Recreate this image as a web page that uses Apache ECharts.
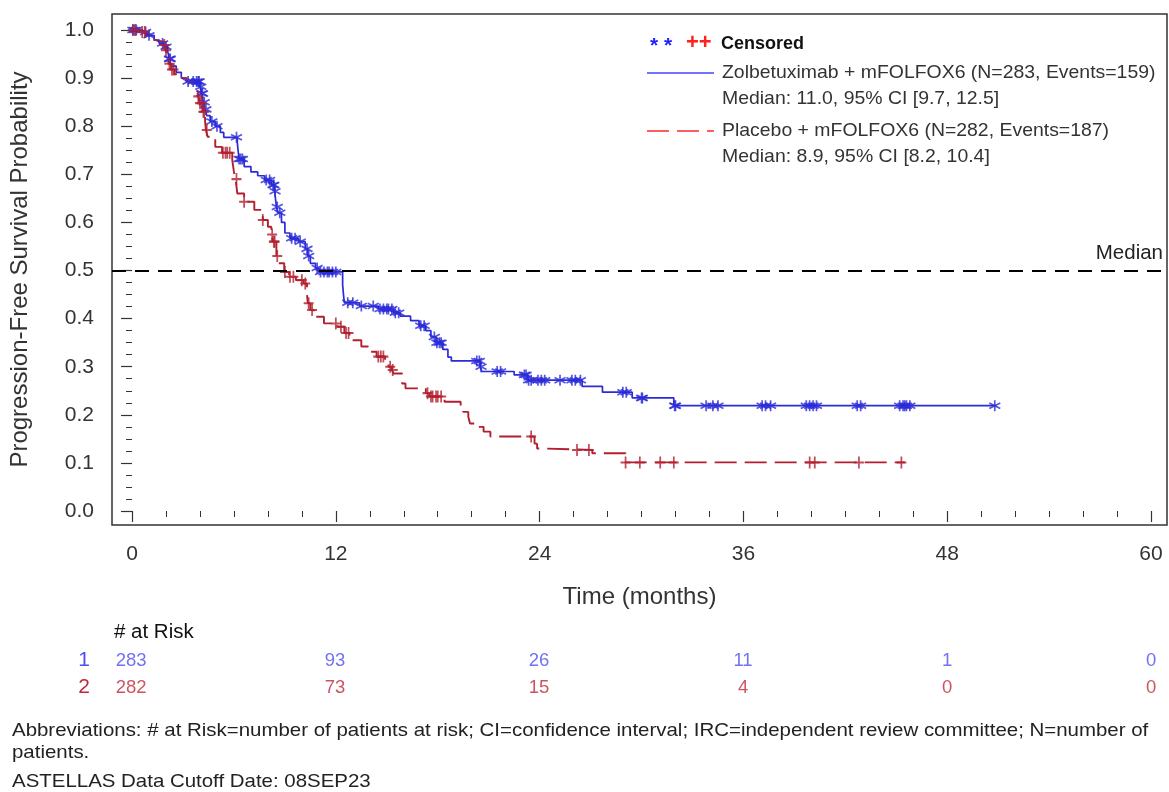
<!DOCTYPE html>
<html><head><meta charset="utf-8">
<script src="https://cdn.jsdelivr.net/npm/echarts@6/dist/echarts.min.js"></script>
<style>html,body{margin:0;padding:0;background:#fff}#c{width:1169px;height:792px}</style>
</head><body><div id="c"></div>
<script>
// ---------------- DATA ----------------
const xMajorTicks = [0, 12, 24, 36, 48, 60];
const xMinorTicks = [0, 2, 4, 6, 8, 10, 12, 14, 16, 18, 20, 22, 24, 26, 28, 30, 32, 34, 36, 38, 40, 42, 44, 46, 48, 50, 52, 54, 56, 58, 60];
const yMajorTicks = [0, 0.1, 0.2, 0.3, 0.4, 0.5, 0.6, 0.7, 0.8, 0.9, 1.0];
const yMinorTicks = [0, 0.025, 0.05, 0.075, 0.1, 0.125, 0.15, 0.175, 0.2, 0.225, 0.25, 0.275, 0.3, 0.325, 0.35, 0.375, 0.4, 0.425, 0.45, 0.475, 0.5, 0.525, 0.55, 0.575, 0.6, 0.625, 0.65, 0.675, 0.7, 0.725, 0.75, 0.775, 0.8, 0.825, 0.85, 0.875, 0.9, 0.925, 0.95, 0.975, 1.0];

// Zolbetuximab + mFOLFOX6: KM steps [time (months), survival after event]
const zolbSteps = [
  [0, 1.0], [0.5, 0.996], [0.9, 0.989], [1.3, 0.979], [1.6, 0.972], [1.9, 0.965],
  [2.1, 0.955], [2.2, 0.94], [2.3, 0.925], [2.6, 0.912], [2.9, 0.9], [3.2, 0.893],
  [4.0, 0.882], [4.1, 0.868], [4.2, 0.85], [4.3, 0.835], [4.4, 0.822], [4.6, 0.81],
  [4.9, 0.8], [5.2, 0.787], [5.4, 0.777], [6.2, 0.765], [6.25, 0.748], [6.3, 0.732],
  [6.6, 0.716], [7.0, 0.705], [7.4, 0.697], [7.8, 0.688], [8.2, 0.678], [8.4, 0.665],
  [8.45, 0.648], [8.5, 0.632], [8.6, 0.62], [8.8, 0.6], [9.0, 0.578], [9.3, 0.567],
  [9.8, 0.56], [10.2, 0.545], [10.35, 0.53], [10.5, 0.515], [10.8, 0.505], [11.0, 0.497],
  [12.4, 0.47], [12.45, 0.45], [12.5, 0.433], [13.4, 0.426], [14.5, 0.42], [15.4, 0.412],
  [15.8, 0.405], [16.4, 0.396], [16.9, 0.385], [17.3, 0.375], [17.6, 0.362], [17.9, 0.35],
  [18.3, 0.336], [18.6, 0.32], [18.8, 0.312], [20.5, 0.3], [20.6, 0.29], [22.5, 0.283],
  [23.3, 0.272], [26.5, 0.259], [27.7, 0.247], [29.45, 0.235], [31.9, 0.219]
];
const zolbEnd = 50.9;
const zolbCensor = [
  0.05, 0.15, 0.25, 0.8, 1.0, 1.8, 2.0, 2.2, 2.25, 3.3, 3.6, 3.8, 3.9, 3.95, 4.05, 4.1, 4.15, 4.25, 4.35,
  4.7, 5.0, 6.15, 6.3, 6.4, 6.5, 7.9, 8.1, 8.3, 8.35, 8.42, 8.55, 8.7, 9.4, 9.6, 9.9, 10.3, 10.4,
  10.9, 11.1, 11.3, 11.5, 11.6, 11.8, 12.0, 12.7, 13.0, 13.5, 14.2, 14.6, 14.8, 15.0, 15.1, 15.3, 15.5, 15.7,
  17.0, 17.2, 17.8, 17.95, 18.1, 18.2, 20.3, 20.45, 20.55, 21.5, 21.7, 23.1, 23.2, 23.35, 23.5, 23.9, 24.1, 24.3,
  25.2, 25.9, 26.1, 26.4, 28.9, 29.1, 30.0, 30.05, 31.95, 32.0, 33.8, 34.2, 34.5, 37.1, 37.3, 37.6,
  39.7, 39.9, 40.1, 40.3, 42.7, 42.9, 45.2, 45.4, 45.5, 45.6, 45.8, 50.8
];

// Placebo + mFOLFOX6
const placSteps = [
  [0, 1.0], [0.4, 0.996], [0.8, 0.989], [1.0, 0.979], [1.4, 0.975], [1.9, 0.969],
  [2.0, 0.958], [2.1, 0.945], [2.15, 0.93], [2.3, 0.918], [2.5, 0.908], [2.8, 0.9],
  [3.2, 0.893], [3.8, 0.878], [3.9, 0.862], [4.0, 0.848], [4.15, 0.83], [4.3, 0.81],
  [4.35, 0.792], [4.45, 0.778], [4.9, 0.757], [5.3, 0.745], [5.9, 0.73], [6.0, 0.705],
  [6.1, 0.69], [6.2, 0.66], [6.6, 0.643], [7.2, 0.626], [7.7, 0.605], [8.0, 0.591],
  [8.2, 0.575], [8.3, 0.56], [8.5, 0.53], [8.6, 0.515], [8.96, 0.497], [9.25, 0.487],
  [9.65, 0.48], [10.1, 0.473], [10.3, 0.45], [10.35, 0.432], [10.5, 0.418], [10.7, 0.404],
  [11.3, 0.39], [12.1, 0.383], [12.5, 0.37], [12.8, 0.355], [13.5, 0.342], [13.9, 0.331],
  [14.4, 0.321], [14.9, 0.314], [15.1, 0.3], [15.3, 0.293], [15.4, 0.286], [15.9, 0.265],
  [16.1, 0.255], [17.3, 0.245], [17.5, 0.238], [18.4, 0.227], [19.35, 0.217], [19.5, 0.206],
  [19.8, 0.196], [19.9, 0.182], [20.2, 0.175], [20.7, 0.165], [21.1, 0.155], [23.7, 0.14],
  [23.85, 0.13], [24.2, 0.127], [27.1, 0.12], [29.06, 0.101]
];
const placEnd = 45.5;
const placCensor = [
  0.05, 0.2, 0.6, 0.75, 1.9, 2.0, 2.2, 2.35, 2.45, 3.9, 4.0, 4.1, 4.2, 4.25, 4.4, 5.35, 5.5, 5.6, 5.75,
  6.15, 6.6, 7.7, 8.25, 8.35, 8.4, 8.55, 9.0, 9.3, 9.5, 10.0, 10.2, 10.4, 10.6, 12.0, 12.3, 12.6, 12.75,
  14.5, 14.65, 14.8, 15.2, 15.35, 17.4, 17.6, 17.7, 17.9, 18.0, 18.2, 23.5, 26.2, 26.9, 29.06, 29.9, 31.1, 31.9,
  39.9, 40.2, 42.8, 45.3
];

const riskTimes = [0, 12, 24, 36, 48, 60];
const riskZolb = [283, 93, 26, 11, 1, 0];
const riskPlac = [282, 73, 15, 4, 0, 0];
const riskRows = ['1', '2'];
const medianLevel = 0.5;

const legendCensored = 'Censored';
const legendZolb = ['Zolbetuximab + mFOLFOX6 (N=283, Events=159)', 'Median: 11.0, 95% CI [9.7, 12.5]'];
const legendPlac = ['Placebo + mFOLFOX6 (N=282, Events=187)', 'Median: 8.9, 95% CI [8.2, 10.4]'];
const footnotes = [
  'Abbreviations: # at Risk=number of patients at risk; CI=confidence interval; IRC=independent review committee; N=number of',
  'patients.',
  'ASTELLAS Data Cutoff Date: 08SEP23'
];

// ---------------- HELPERS ----------------
function survAt(steps, t) {
  let s = steps[0][1];
  for (const p of steps) { if (p[0] <= t) s = p[1]; else break; }
  return s;
}
function lineData(steps, end) {
  return steps.map(p => [p[0], p[1]]).concat([[end, steps[steps.length - 1][1]]]);
}

const FONT = '"Liberation Sans", Arial, sans-serif';
const BLUE = '#2b2bd8';
const RED = '#b21f2e';
const XMIN = -1.18, XMAX = 60.94;
const YMIN = -0.0291, YMAX = 1.0333;

const asterisk = 'path://M5,0 L5,10 M0.7,2.5 L9.3,7.5 M0.7,7.5 L9.3,2.5';
const plus = 'path://M0,6 L10,6 M5,0 L5,12';

function txt(x, y, text, font, fill, sx) {
  return { type: 'text', x: x, y: y, scaleX: sx || 1, style: { x: 0, y: 0, text: text, font: font, fill: fill, verticalAlign: 'middle' } };
}

const chart = echarts.init(document.getElementById('c'), null, { renderer: 'canvas' });

const option = {
  animation: false,
  backgroundColor: '#fff',
  textStyle: { fontFamily: FONT },
  grid: [
    { left: 111, right: 2, top: 14, bottom: 267, show: true, borderColor: '#333', borderWidth: 1.5, backgroundColor: 'transparent' },
    { left: 111, right: 2, top: 647, height: 54 }
  ],
  xAxis: [
    {
      gridIndex: 0, type: 'value', min: XMIN, max: XMAX, position: 'bottom',
      axisLine: { show: false }, splitLine: { show: false },
      axisTick: { show: true, customValues: xMajorTicks, length: 11, lineStyle: { color: '#333', width: 1.2 } },
      axisLabel: { customValues: xMajorTicks, fontSize: 21, margin: 19, color: '#333', fontFamily: FONT },
      name: 'Time (months)', nameLocation: 'middle', nameGap: 60,
      nameTextStyle: { fontSize: 24, color: '#333', fontFamily: FONT }
    },
    {
      gridIndex: 0, type: 'value', min: XMIN, max: XMAX, position: 'bottom',
      axisLine: { show: false }, splitLine: { show: false },
      axisTick: { show: true, customValues: xMinorTicks, length: 6, lineStyle: { color: '#333', width: 1 } },
      axisLabel: { show: false }
    },
    { gridIndex: 1, type: 'value', min: XMIN, max: XMAX, show: false }
  ],
  yAxis: [
    {
      gridIndex: 0, type: 'value', min: YMIN, max: YMAX, position: 'left',
      axisLine: { show: false }, splitLine: { show: false },
      axisTick: { show: true, customValues: yMajorTicks, length: 11, lineStyle: { color: '#333', width: 1.2 } },
      axisLabel: { customValues: yMajorTicks, formatter: v => v.toFixed(1), fontSize: 21, margin: 18, color: '#333', fontFamily: FONT },
      name: 'Progression-Free Survival Probability', nameLocation: 'middle', nameGap: 80, nameRotate: 90,
      nameTextStyle: { fontSize: 24, color: '#333', fontFamily: FONT }
    },
    {
      gridIndex: 0, type: 'value', min: YMIN, max: YMAX, position: 'left',
      axisLine: { show: false }, splitLine: { show: false },
      axisTick: { show: true, customValues: yMinorTicks, length: 6, lineStyle: { color: '#333', width: 1 } },
      axisLabel: { show: false }
    },
    {
      gridIndex: 1, type: 'category', data: riskRows, inverse: true,
      axisLine: { show: false }, axisTick: { show: false }, splitLine: { show: false },
      axisLabel: { interval: 0, hideOverlap: false, fontSize: 21, margin: 21, fontFamily: FONT, color: (v, i) => (i === 0 ? '#4d4df0' : '#c0283a') }
    }
  ],
  series: [
    {
      name: 'Zolbetuximab', type: 'line', xAxisIndex: 0, yAxisIndex: 0, step: 'end', symbol: 'none',
      data: lineData(zolbSteps, zolbEnd), lineStyle: { color: BLUE, width: 1.7 }, z: 3,
      markLine: {
        silent: true, symbol: 'none', animation: false,
        data: [{ yAxis: medianLevel }],
        lineStyle: { color: '#000', type: [14, 9], width: 2 },
        label: { show: true, formatter: 'Median', position: 'insideEndTop', fontSize: 20.5, color: '#222', fontFamily: FONT, distance: [4, 7] }
      }
    },
    {
      name: 'Placebo', type: 'line', xAxisIndex: 0, yAxisIndex: 0, step: 'end', symbol: 'none',
      data: lineData(placSteps, placEnd), lineStyle: { color: RED, width: 1.9, type: [22, 8] }, z: 3
    },
    {
      name: 'Zolb censored', type: 'scatter', xAxisIndex: 0, yAxisIndex: 0,
      data: zolbCensor.map(t => [t, survAt(zolbSteps, t)]),
      symbol: asterisk, symbolSize: 11,
      itemStyle: { color: 'rgba(0,0,0,0)', borderColor: BLUE, borderWidth: 1.7 }, z: 4
    },
    {
      name: 'Placebo censored', type: 'scatter', xAxisIndex: 0, yAxisIndex: 0,
      data: placCensor.map(t => [t, survAt(placSteps, t)]),
      symbol: plus, symbolSize: [10, 12],
      itemStyle: { color: 'rgba(0,0,0,0)', borderColor: RED, borderWidth: 1.9 }, z: 4
    },
    {
      name: 'risk1', type: 'scatter', xAxisIndex: 2, yAxisIndex: 2, symbolSize: 1,
      itemStyle: { color: 'rgba(0,0,0,0)' },
      data: riskTimes.map((t, i) => [t, 0, riskZolb[i]]),
      label: { show: true, position: 'inside', formatter: p => String(p.value[2]), fontSize: 18.5, color: '#4d4df0', fontFamily: FONT }
    },
    {
      name: 'risk2', type: 'scatter', xAxisIndex: 2, yAxisIndex: 2, symbolSize: 1,
      itemStyle: { color: 'rgba(0,0,0,0)' },
      data: riskTimes.map((t, i) => [t, 1, riskPlac[i]]),
      label: { show: true, position: 'inside', formatter: p => String(p.value[2]), fontSize: 18.5, color: '#c0283a', fontFamily: FONT }
    }
  ],
  graphic: [
    // legend
    txt(650, 46, '* *', 'bold 21px ' + FONT, '#2222ff'),
    txt(686, 43, '++', 'bold 22px ' + FONT, '#ff2020'),
    txt(721, 44, legendCensored, 'bold 18px ' + FONT, '#111'),
    { type: 'line', shape: { x1: 647, y1: 73, x2: 714, y2: 73 }, style: { stroke: '#4444ff', lineWidth: 1.6 } },
    txt(722, 73, legendZolb[0], '18.5px ' + FONT, '#333', 1.05),
    txt(722, 99, legendZolb[1], '18.5px ' + FONT, '#333', 1.05),
    { type: 'line', shape: { x1: 647, y1: 131, x2: 714, y2: 131 }, style: { stroke: '#ff2a2a', lineWidth: 1.6, lineDash: [22, 8] } },
    txt(722, 131, legendPlac[0], '18.5px ' + FONT, '#333', 1.05),
    txt(722, 157, legendPlac[1], '18.5px ' + FONT, '#333', 1.05),
    // at risk header
    txt(114, 633, '# at Risk', '19.5px ' + FONT, '#111', 1.05),
    // footnotes
    txt(12, 731, footnotes[0], '18.5px ' + FONT, '#222', 1.105),
    txt(12, 753, footnotes[1], '18.5px ' + FONT, '#222', 1.105),
    txt(12, 782, footnotes[2], '18.5px ' + FONT, '#222', 1.105)
  ]
};
chart.setOption(option);
</script>
</body></html>
